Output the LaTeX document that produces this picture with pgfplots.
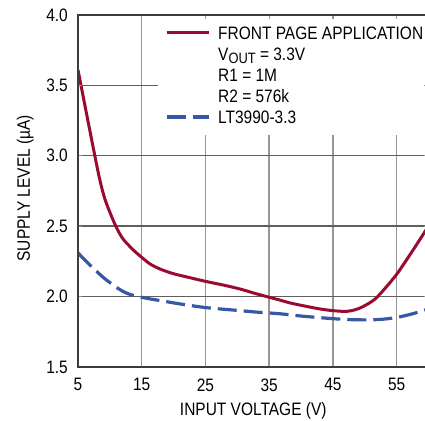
\documentclass[border=0pt]{standalone}
\usepackage{fontspec}
\setmainfont{Liberation Sans}[FakeStretch=0.86]
\usepackage{pgfplots}
\pgfplotsset{compat=1.18}
\definecolor{redc}{RGB}{155,10,48}
\definecolor{bluec}{RGB}{55,88,165}
\definecolor{hgrid}{RGB}{95,95,95}
\definecolor{vgrid}{RGB}{150,150,150}
\definecolor{axc}{RGB}{60,60,60}
\begin{document}
\begin{tikzpicture}[font=\fontsize{18bp}{21bp}\selectfont]
\begin{axis}[
  name=ax,
  scale only axis, width=350.5bp, height=352bp,
  xmin=5, xmax=60, ymin=1.5, ymax=4.0,
  xtick={5,15,25,35,45,55},
  ytick={1.5,2.0,2.5,3.0,3.5,4.0},
  /pgf/number format/assume math mode=true,
  y tick label style={/pgf/number format/fixed, /pgf/number format/fixed zerofill, /pgf/number format/precision=1, xshift=-10bp},
  x tick label style={yshift=-11.3bp},
  tick label style={font=\fontsize{18bp}{21bp}\selectfont, inner sep=0pt},
  tick align=inside,
  major tick length=4.5bp,
  tick style={color=vgrid, line width=1.2bp},
  axis line style={axc, line width=1.5bp},
  axis on top,
  xlabel={INPUT VOLTAGE (V)},
  ylabel={SUPPLY LEVEL (µA)},
  xlabel style={at={(axis description cs:0.5,0)}, anchor=north, yshift=-35.5bp, inner sep=0pt},
  ylabel style={at={(axis description cs:-0.1261,0.5077)}, anchor=south, inner sep=0pt},
  legend style={at={(0.2482,0.9787)}, anchor=north west, draw=none, fill=none, inner sep=0pt, outer sep=0pt, row sep=0pt, column sep=8bp, nodes={inner sep=0pt, text height=16.8bp, text depth=4.2bp}, font=\fontsize{18bp}{21bp}\selectfont},
  legend cell align=left,
  legend image code/.code={\draw[#1] (0bp,0bp) -- (42bp,0bp);},
]
% grid
\draw[vgrid, line width=1.4bp] (axis cs:15,1.5) -- (axis cs:15,4.0);
\draw[vgrid, line width=1.4bp] (axis cs:25,1.5) -- (axis cs:25,3.15);
\draw[vgrid, line width=1.4bp] (axis cs:35,1.5) -- (axis cs:35,3.15);
\draw[vgrid, line width=1.4bp] (axis cs:45,1.5) -- (axis cs:45,3.15);
\draw[vgrid, line width=1.4bp] (axis cs:55,1.5) -- (axis cs:55,3.15);
\draw[hgrid, line width=1.4bp] (axis cs:5,2.0) -- (axis cs:60,2.0);
\draw[hgrid, line width=1.4bp] (axis cs:5,2.5) -- (axis cs:60,2.5);
\draw[hgrid, line width=1.4bp] (axis cs:5,3.0) -- (axis cs:60,3.0);
\draw[hgrid, line width=1.4bp] (axis cs:5,3.5) -- (axis cs:17.5,3.5);

\addplot[redc, line width=3bp, smooth, tension=0.5] coordinates {
 (5,3.61) (6.4,3.285) (7.8,2.965) (8.5,2.815) (9.24,2.69) (10.29,2.567) (11.17,2.478)
 (12.11,2.407) (13.68,2.331) (15,2.279) (16.3,2.232) (17.87,2.196)
 (19.95,2.163) (22.5,2.135) (25.04,2.108) (28,2.08) (30.42,2.054)
 (32.6,2.025) (34.86,1.997) (36.7,1.975) (38.27,1.955) (40.89,1.93) (43,1.912)
 (45.06,1.9) (47.16,1.895) (48.6,1.908) (49.77,1.93) (51.6,1.982) (53.4,2.07)
 (55.16,2.168) (57.61,2.333) (59.45,2.462) (60,2.50)
};
\addlegendentry{FRONT PAGE APPLICATION}
\addlegendimage{empty legend}
\addlegendentry{V\raisebox{-2.8bp}{\fontsize{15bp}{15bp}\selectfont OUT} = 3.3V}
\addlegendimage{empty legend}
\addlegendentry{R1 = 1M}
\addlegendimage{empty legend}
\addlegendentry{R2 = 576k}
\addplot[bluec, line width=3.2bp, smooth, tension=0.5, dash pattern=on 19bp off 7bp] coordinates {
 (5,2.31) (6.3,2.25) (7.67,2.19) (9,2.135) (10.29,2.09) (11.5,2.052) (12.5,2.027)
 (13.7,2.008) (15,1.995) (16.5,1.982) (18.13,1.97) (21,1.948) (25.04,1.922)
 (30,1.902) (33,1.89) (36.7,1.878) (40,1.862)
 (45.06,1.843) (48,1.836) (50.8,1.835) (53,1.84) (55.16,1.853) (57.5,1.878)
 (59.45,1.905) (60,1.915)
};
\addlegendentry{LT3990-3.3}
\end{axis}
\pgfresetboundingbox
\path[use as bounding box] ([shift={(-78bp,-54bp)}]ax.south west) rectangle ++(425bp,421bp);
\end{tikzpicture}
\end{document}
